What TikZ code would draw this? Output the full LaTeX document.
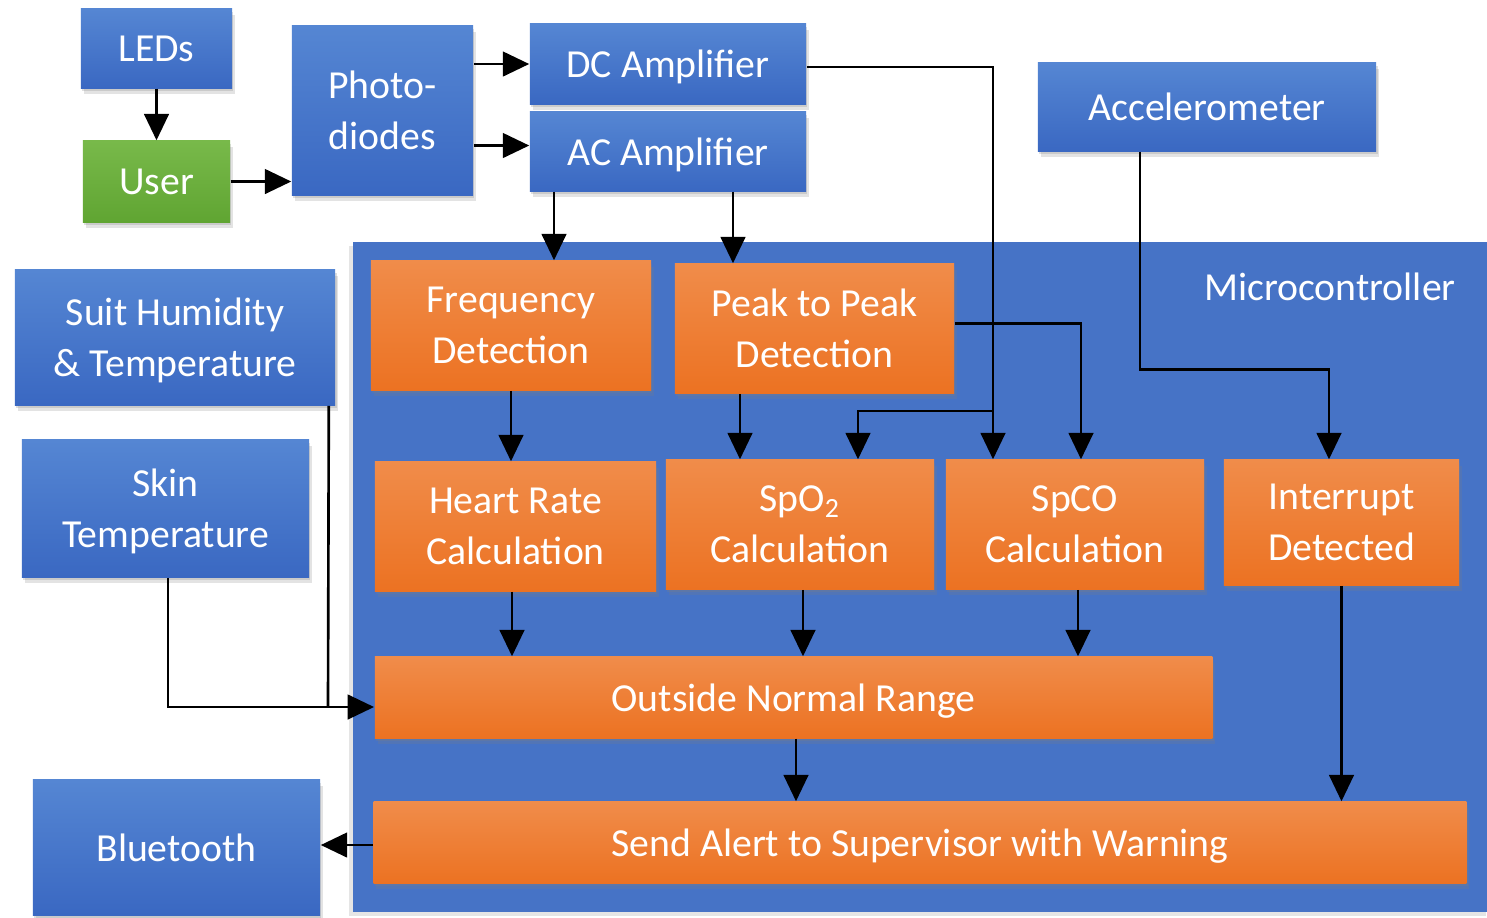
\documentclass[tikz,border=0pt]{standalone}
\usepackage{fontspec}
\setmainfont{Carlito}
\usetikzlibrary{arrows.meta,shadows,calc}
\definecolor{bluetop}{HTML}{5586D3}
\definecolor{bluebot}{HTML}{3A68C2}
\definecolor{orangetop}{HTML}{F08C4A}
\definecolor{orangebot}{HTML}{EC7222}
\definecolor{greentop}{HTML}{78B94A}
\definecolor{greenbot}{HTML}{60A532}
\definecolor{mcblue}{HTML}{4673C6}
\begin{document}
\begin{tikzpicture}[x=0.01cm,y=-0.01cm,
  every node/.style={font=\fontsize{11.3}{14.5}\selectfont, text=white, align=center},
  base/.style={inner sep=0pt, text depth=0pt,
    drop shadow={shadow xshift=0.8pt,shadow yshift=-1.6pt,opacity=0.22},
    drop shadow={shadow xshift=0.4pt,shadow yshift=-0.8pt,opacity=0.25}},
  bluebox/.style={base, top color=bluetop, bottom color=bluebot},
  orangebox/.style={base, top color=orangetop, bottom color=orangebot},
  greenbox/.style={base, top color=greentop, bottom color=greenbot},
  arr/.style={line width=0.75pt, -{Triangle[width=7pt,length=7.5pt]}},
  ln/.style={line width=0.75pt}]
\fill[white] (0,0) rectangle (1487,917);
\useasboundingbox (0,0) rectangle (1487,917);
% microcontroller container
\fill[mcblue, drop shadow={shadow xshift=-1pt,shadow yshift=-1pt,opacity=0.2}] (353,242) rectangle (1490,912);
\node (mclabel) at (1330,287) {Microcontroller};
% external blocks
\node[bluebox, minimum width=1.51cm, minimum height=0.79cm] (leds) at (156.5,48.5) {LEDs};
\node[greenbox, minimum width=1.47cm, minimum height=0.81cm] (user) at (156.5,181.5) {User};
\node[bluebox, minimum width=1.81cm, minimum height=1.69cm] (photo) at (382.5,110.5) {Photo-\\diodes};
\node[bluebox, minimum width=2.76cm, minimum height=0.80cm] (dc) at (668,64) {DC Amplifier};
\node[bluebox, minimum width=2.76cm, minimum height=0.79cm] (ac) at (668,151.5) {AC Amplifier};
\node[bluebox, minimum width=3.38cm, minimum height=0.88cm] (acc) at (1207,107) {Accelerometer};
\node[bluebox, minimum width=3.20cm, minimum height=1.35cm] (suit) at (175,337.5) {Suit Humidity\\\& Temperature};
\node[bluebox, minimum width=2.87cm, minimum height=1.37cm] (skin) at (165.5,508.5) {Skin\\Temperature};
\node[bluebox, minimum width=2.87cm, minimum height=1.35cm] (bt) at (176.5,847.5) {Bluetooth};
% internal blocks
\node[orangebox, minimum width=2.80cm, minimum height=1.29cm] (freq) at (511,325.5) {Frequency\\Detection};
\node[orangebox, minimum width=2.79cm, minimum height=1.29cm] (peak) at (814.5,328.5) {Peak to Peak\\Detection};
\node[orangebox, minimum width=2.81cm, minimum height=1.29cm] (hr) at (515.5,526.5) {Heart Rate\\Calculation};
\node[orangebox, minimum width=2.68cm, minimum height=1.29cm] (spo) at (800,524.5) {SpO\textsubscript{2}\\Calculation};
\node[orangebox, minimum width=2.58cm, minimum height=1.29cm] (spco) at (1075,524.5) {SpCO\\Calculation};
\node[orangebox, minimum width=2.35cm, minimum height=1.25cm] (int) at (1341.5,522.5) {Interrupt\\Detected};
\node[orangebox, minimum width=8.37cm, minimum height=0.81cm] (out) at (793.5,697.5) {Outside Normal Range};
\node[orangebox, minimum width=10.92cm, minimum height=0.81cm] (send) at (920,842.5) {Send Alert to Supervisor with Warning};
% connectors
\draw[arr] (leds.south) -- (user.north);
\draw[arr] (user.east) -- (user.east -| photo.west);
\draw[arr] (photo.east |- dc.west) -- (dc.west);
\draw[arr] ($(photo.east |- ac.west)+(0,-6)$) -- ($(ac.west)+(0,-6)$);
\draw[arr] ($(ac.south)+(-114,0)$) coordinate (a1) -- (a1 |- freq.north);
\draw[arr] ($(ac.south)+(65,0)$) coordinate (a2) -- (a2 |- peak.north);
\draw[arr] ($(dc.east)+(0,3)$) -| ($(spco.north)+(-82,0)$);
\coordinate (br) at (993,411);
\draw[arr] (br) -| ($(spo.north)+(58,0)$);
\draw[arr] ($(peak.east)+(0,-5)$) -| ($(spco.north)+(6,0)$);
\draw[arr] (freq.south) -- (freq.south |- hr.north);
\draw[arr] ($(peak.south)+(-74.5,0)$) -- ($(spo.north)+(-60,0)$);
\draw[arr] ($(acc.south)+(-67,0)$) -- ++(0,218) -| ($(int.north)+(-12.5,0)$);
\draw[arr] ($(hr.south)+(-3.5,0)$) coordinate (h1) -- (h1 |- out.north);
\draw[arr] ($(spo.south)+(3,0)$) coordinate (s1) -- (s1 |- out.north);
\draw[arr] ($(spco.south)+(3,0)$) coordinate (s2) -- (s2 |- out.north);
\draw[arr] (int.south) -- (int.south |- send.north);
\draw[arr] ($(out.south)+(2.5,0)$) coordinate (o1) -- (o1 |- send.north);
\draw[arr] ($(send.west)+(0,2.5)$) -- ($(bt.east |- send.west)+(0,2.5)$);
\coordinate (join) at (328,707);
\draw[ln] ($(suit.south east)+(-7,0)$) -- (join);
\draw[ln] ($(skin.south)+(2.5,0)$) |- (join);
\draw[arr] (join) -- (join -| out.west);
\end{tikzpicture}
\end{document}
